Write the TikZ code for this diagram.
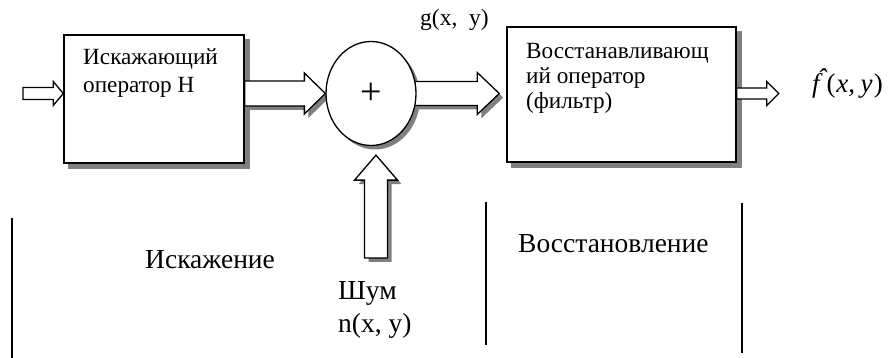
\documentclass[tikz,border=0pt]{standalone}
\usepackage{fontspec}
\setmainfont{Liberation Serif}
\usetikzlibrary{calc,shapes.geometric}
\pgfdeclarelayer{bg}\pgfdeclarelayer{mid}\pgfsetlayers{bg,mid,main}
\tikzset{
  blockbox/.style={draw, line width=1.5pt, fill=white, rectangle, inner sep=0pt},
  sumnode/.style={draw, line width=1.3pt, fill=white, ellipse, inner sep=0pt, minimum width=90pt, minimum height=104pt, font=\fontsize{38}{38}\selectfont},
  shd/.style={fill=black!50, draw=none},
  arr/.style={fill=white, draw=black, line width=1.3pt, line join=miter},
  lbl/.style={inner sep=0pt, anchor=base west, align=left},
  boxtext/.style={lbl, font=\fontsize{23.2}{28}\selectfont},
  bottomtext/.style={lbl, font=\fontsize{27.5}{33}\selectfont},
  sep/.style={draw, line width=1.3pt},
}
\newcommand\hpath[6]{let \p1=(#1), \p2=(#2) in (\x1+#6,\y2+#3-#6) -- (\x2-#5+#6,\y2+#3-#6) -- (\x2-#5+#6,\y2+#4-#6) -- (\x2+#6,\y2-#6) -- (\x2-#5+#6,\y2-#4-#6) -- (\x2-#5+#6,\y2-#3-#6) -- (\x1+#6,\y2-#3-#6) -- cycle}
\newcommand\vpath[6]{let \p1=(#1), \p2=(#2) in (\x2-#3+#6,\y1-#6) -- (\x2-#3+#6,\y2-#5-#6) -- (\x2-#4+#6,\y2-#5-#6) -- (\x2+#6,\y2-#6) -- (\x2+#4+#6,\y2-#5-#6) -- (\x2+#3+#6,\y2-#5-#6) -- (\x2+#3+#6,\y1-#6) -- cycle}
\begin{document}
\begin{tikzpicture}[x=1pt,y=-1pt]
\useasboundingbox (0,0) rectangle (892,358);
\node[blockbox, minimum width=180pt, minimum height=128pt] (b1) at (154,99) {};
\node[blockbox, minimum width=229pt, minimum height=135pt] (b2) at (621.5,94.5) {};
\node[sumnode] (plus) at (371,93.5) {+};

% multi-line nodes: base anchor = baseline of the last line
\node[boxtext] (t1) at (83,93) {Искажающий\\оператор Н};
\node[lbl, font=\fontsize{23.2}{25}\selectfont] (t2) at (526,109) {Восстанавливающ\\ий оператор\\(фильтр)};
\node[lbl, font=\fontsize{23.5}{23.5}\selectfont] (g) at (420,26) {g(x,\ \ y)};
\node[lbl, font=\fontsize{27}{27}\selectfont] (fh) at (812,93) {\textit{\makebox[0pt][l]{\hspace{0.19em}\raisebox{0.2em}{ˆ}}f}\kern0.14em(\kern0.03em\textit{x},\kern0.2em\textit{y}\kern0.05em)};

\node[bottomtext] (dist) at (145,269) {Искажение};
\node[bottomtext] (rest) at (518,253) {Восстановление};
\node[bottomtext] (noise) at (338,332) {Шум\\n(x, y)};

\coordinate (s1a) at (12,218); \coordinate (s1b) at (12,358);
\coordinate (s2a) at (486,202); \coordinate (s2b) at (486,345);
\coordinate (s3a) at (742,203); \coordinate (s3b) at (742,353);
\draw[sep] (s1a) -- (s1b);
\draw[sep] (s2a) -- (s2b);
\draw[sep] (s3a) -- (s3b);

\coordinate (in) at (23,95);
\coordinate (t3) at ($(b2.west |- plus.center)+(-7,0)$);
\coordinate (out) at ($(b2.east |- plus.center)+(42,0)$);
\coordinate (nz) at (376,258);
\coordinate (t5) at ($(plus.south)+(5,9)$);

\begin{pgfonlayer}{bg}
  \fill[shd] ($(b1.south west)+(5,5)$) rectangle ($(b1.north east)+(5,5)$);
  \fill[shd] ($(b2.south west)+(5,5)$) rectangle ($(b2.north east)+(5,5)$);
  \fill[shd] ($(plus.center)+(4,4)$) ellipse [x radius=45pt, y radius=52pt];
  \path[shd] \hpath{b1.east}{plus.west}{12.5pt}{20.5pt}{21pt}{4pt};
  \path[shd] \hpath{plus.center}{t3}{12pt}{21pt}{22pt}{4pt};
  \path[shd] \vpath{nz}{t5}{11.5pt}{21.5pt}{25pt}{4pt};
\end{pgfonlayer}
\begin{pgfonlayer}{mid}
  \path[arr] \hpath{in}{b1.west |- plus.center}{6pt}{12pt}{10pt}{0pt};
  \path[arr] \hpath{b1.east}{plus.west}{12.5pt}{20.5pt}{21pt}{0pt};
  \path[arr] \hpath{plus.center}{t3}{12pt}{21pt}{22pt}{0pt};
  \path[arr] \hpath{b2.east}{out}{5.5pt}{12pt}{12pt}{0pt};
  \path[arr] \vpath{nz}{t5}{11.5pt}{21.5pt}{25pt}{0pt};
\end{pgfonlayer}
\end{tikzpicture}
\end{document}
